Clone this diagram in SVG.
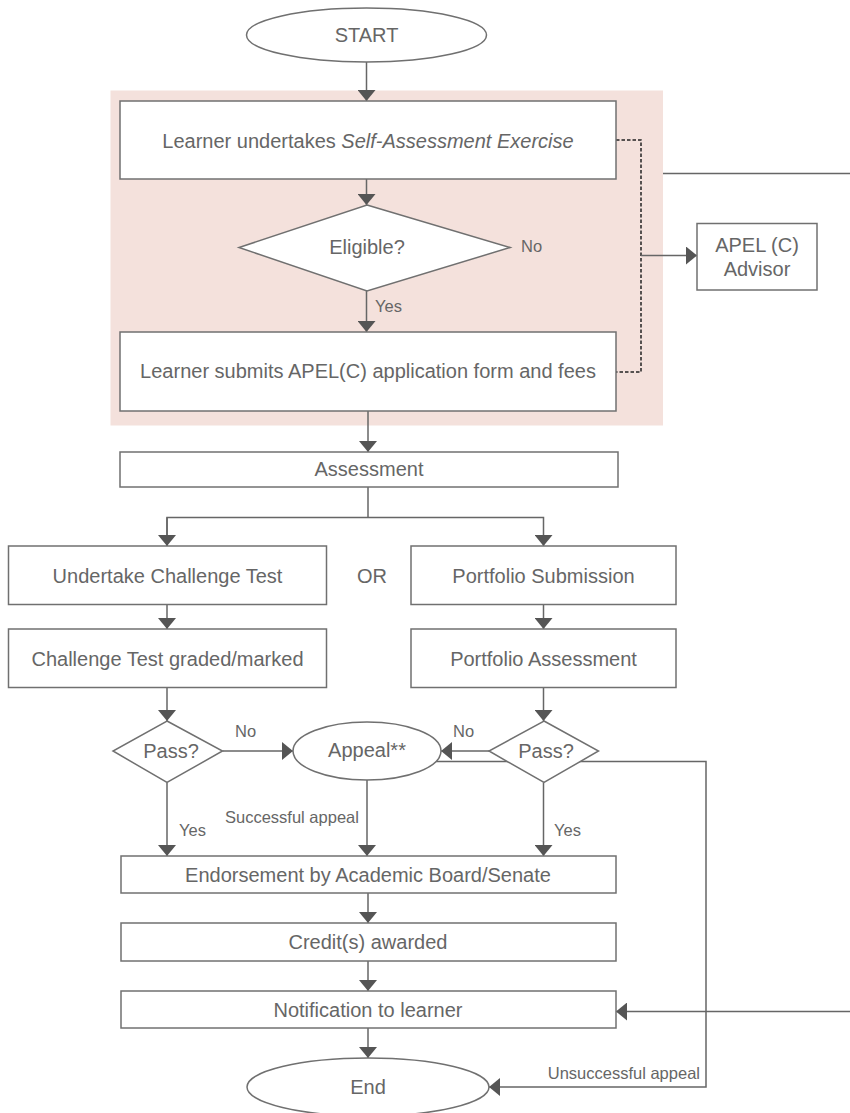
<svg xmlns="http://www.w3.org/2000/svg" width="850" height="1113" viewBox="0 0 850 1113">
<defs>
<style>
.box{fill:#fff;stroke:#707070;stroke-width:1.5}
.t{font-family:"Liberation Sans",Arial,sans-serif;font-size:20px;fill:#666;text-anchor:middle}
.l{font-family:"Liberation Sans",Arial,sans-serif;font-size:16.5px;fill:#666}
.c{fill:none;stroke:#666;stroke-width:1.5}
.d{fill:none;stroke:#222;stroke-width:1.5;stroke-dasharray:3.5 2}
</style>
<marker id="ah" markerUnits="userSpaceOnUse" markerWidth="11" markerHeight="18" refX="11" refY="9" orient="auto">
<path d="M0,0 L11,9 L0,18 Z" fill="#555"/>
</marker>
</defs>
<rect width="850" height="1113" fill="#fff"/>
<rect id="highlight" x="110.5" y="90.5" width="552.5" height="335" fill="#f4e1dc"/>

<g id="connectors">
<line class="c" x1="366.5" y1="62" x2="366.5" y2="101" marker-end="url(#ah)"/>
<line class="c" x1="366.5" y1="179" x2="366.5" y2="205" marker-end="url(#ah)"/>
<line class="c" x1="366.5" y1="291" x2="366.5" y2="332" marker-end="url(#ah)"/>
<polyline class="d" points="616,140 641,140 641,372 616,372"/>
<line class="c" x1="641" y1="255.5" x2="697" y2="255.5" marker-end="url(#ah)"/>
<line class="c" x1="663" y1="173.5" x2="850" y2="173.5"/>
<line class="c" x1="368" y1="411" x2="368" y2="452" marker-end="url(#ah)"/>
<line class="c" x1="368" y1="487" x2="368" y2="517.5"/>
<polyline class="c" points="167,546 167,517.5 543.5,517.5 543.5,546" marker-end="url(#ah)"/>
<line class="c" x1="167" y1="517.5" x2="167" y2="546" marker-end="url(#ah)"/>
<line class="c" x1="167" y1="604.5" x2="167" y2="629" marker-end="url(#ah)"/>
<line class="c" x1="543.5" y1="604.5" x2="543.5" y2="629" marker-end="url(#ah)"/>
<line class="c" x1="167" y1="687.5" x2="167" y2="721" marker-end="url(#ah)"/>
<line class="c" x1="543.5" y1="687.5" x2="543.5" y2="721" marker-end="url(#ah)"/>
<line class="c" x1="222.5" y1="751" x2="293" y2="751" marker-end="url(#ah)"/>
<line class="c" x1="489" y1="751" x2="441" y2="751" marker-end="url(#ah)"/>
<polyline class="c" points="435,761.5 706,761.5 706,1087 489,1087" marker-end="url(#ah)"/>
<line class="c" x1="167" y1="782.5" x2="167" y2="856" marker-end="url(#ah)"/>
<line class="c" x1="367" y1="780" x2="367" y2="856" marker-end="url(#ah)"/>
<line class="c" x1="543.5" y1="782.5" x2="543.5" y2="856" marker-end="url(#ah)"/>
<line class="c" x1="368" y1="893" x2="368" y2="923" marker-end="url(#ah)"/>
<line class="c" x1="368" y1="961" x2="368" y2="991" marker-end="url(#ah)"/>
<line class="c" x1="850" y1="1011.5" x2="616" y2="1011.5" marker-end="url(#ah)"/>
<line class="c" x1="368" y1="1028" x2="368" y2="1058" marker-end="url(#ah)"/>
</g>

<g id="start"><ellipse class="box" cx="366.5" cy="35" rx="120" ry="27"/><text class="t" x="366.5" y="42">START</text></g>
<g id="self-assessment"><rect class="box" x="120" y="101" width="496" height="78"/><text class="t" x="368" y="148">Learner undertakes <tspan font-style="italic">Self-Assessment Exercise</tspan></text></g>
<g id="eligible"><polygon class="box" points="367,205 510,247.5 367,291 239,247.5"/><text class="t" x="367" y="254">Eligible?</text>
<text class="l" x="521" y="252">No</text><text class="l" x="375" y="312">Yes</text></g>
<g id="submit"><rect class="box" x="120" y="332" width="496" height="79"/><text class="t" x="368" y="378">Learner submits APEL(C) application form and fees</text></g>
<g id="advisor"><rect class="box" x="697" y="223.5" width="120" height="66.5"/><text class="t" x="757" y="252">APEL (C)</text><text class="t" x="757" y="276">Advisor</text></g>
<g id="assessment"><rect class="box" x="120" y="452" width="498" height="35"/><text class="t" x="369" y="476">Assessment</text></g>
<g id="challenge"><rect class="box" x="8.5" y="546" width="318" height="58.5"/><text class="t" x="167.5" y="583">Undertake Challenge Test</text></g>
<text class="t" x="372" y="583" id="or">OR</text>
<g id="portfolio"><rect class="box" x="411" y="546" width="265" height="58.5"/><text class="t" x="543.5" y="583">Portfolio Submission</text></g>
<g id="graded"><rect class="box" x="8.5" y="629" width="318" height="58.5"/><text class="t" x="167.5" y="666">Challenge Test graded/marked</text></g>
<g id="portfolio-assessment"><rect class="box" x="411" y="629" width="265" height="58.5"/><text class="t" x="543.5" y="666">Portfolio Assessment</text></g>
<g id="pass1"><polygon class="box" points="167,721 222.5,751 167,782.5 113,751"/><text class="t" x="171" y="758">Pass?</text>
<text class="l" x="235" y="737">No</text><text class="l" x="179" y="836">Yes</text></g>
<g id="appeal"><ellipse class="box" cx="367" cy="751" rx="74" ry="29"/><text class="t" x="367" y="757">Appeal**</text>
<text class="l" x="225" y="823">Successful appeal</text></g>
<g id="pass2"><polygon class="box" points="544,721 598.5,751 544,782.5 489,751"/><text class="t" x="546" y="758">Pass?</text>
<text class="l" x="453" y="737">No</text><text class="l" x="554" y="836">Yes</text></g>
<g id="endorsement"><rect class="box" x="121" y="856" width="495" height="37"/><text class="t" x="368" y="882">Endorsement by Academic Board/Senate</text></g>
<g id="credits"><rect class="box" x="121" y="923" width="495" height="38"/><text class="t" x="368" y="949">Credit(s) awarded</text></g>
<g id="notification"><rect class="box" x="121" y="991" width="495" height="37"/><text class="t" x="368" y="1017">Notification to learner</text></g>
<g id="end"><ellipse class="box" cx="368" cy="1087" rx="121" ry="29"/><text class="t" x="368" y="1094">End</text>
<text class="l" x="700" y="1079" text-anchor="end">Unsuccessful appeal</text></g>
</svg>
